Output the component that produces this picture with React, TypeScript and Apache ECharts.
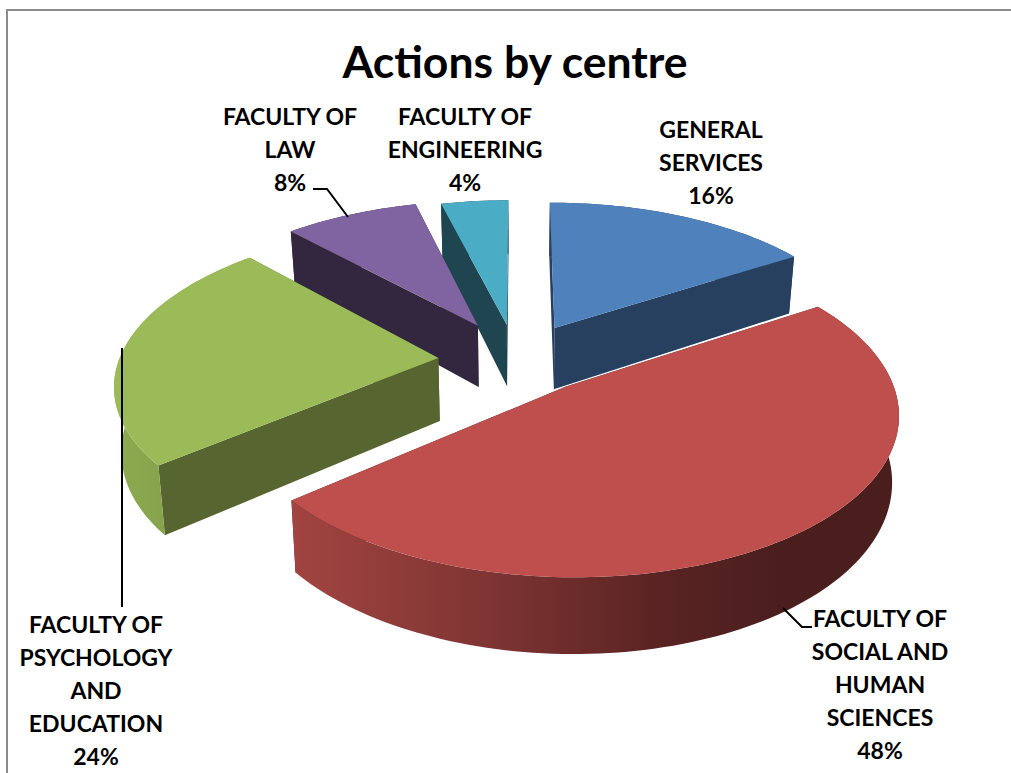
import React, { useEffect, useRef } from "react";
import * as echarts from "echarts";

// Share of actions per centre, in percent, clockwise from twelve o'clock.
const centreNames = [
  "GENERAL\nSERVICES",
  "FACULTY OF\nSOCIAL AND\nHUMAN\nSCIENCES",
  "FACULTY OF\nPSYCHOLOGY\nAND\nEDUCATION",
  "FACULTY OF\nLAW",
  "FACULTY OF\nENGINEERING",
];
const centreShares = [16, 48, 24, 8, 4];

// Painter's order, from the rearmost slice to the frontmost one.
const drawOrder = [4, 3, 0, 2, 1];

// How far each slice is pulled out of the pie, in disc units [right, back].
const sliceOffsets = [
  [0.118, 0.189],
  [0.147, -0.195],
  [-0.25, -0.013],
  [-0.13, 0.205],
  [-0.036, 0.21],
];
const topColors = ["#4f81bd", "#be4f4c", "#9bbb59", "#8064a2", "#4bacc6"];
const sideColors = ["#27405f", "#4b1e1e", "#576630", "#33273f", "#1f4650"];
const rimColors: any[] = [
  "#27405f",
  {
    type: "linear", x: 0, y: 0, x2: 1, y2: 0,
    colorStops: [
      { offset: 0, color: "#a24441" },
      { offset: 0.3, color: "#813634" },
      { offset: 0.6, color: "#5a2423" },
      { offset: 0.8, color: "#4b1e1e" },
      { offset: 1, color: "#4b1e1e" },
    ],
  },
  {
    type: "linear", x: 0, y: 0, x2: 1, y2: 0,
    colorStops: [
      { offset: 0, color: "#8cab50" },
      { offset: 1, color: "#7c9645" },
    ],
  },
  "#33273f",
  "#1f4650",
];

// Where each label block is centred.
const labelCentres = [
  [711, 162],
  [880, 684],
  [96, 690],
  [290, 149],
  [465, 149],
];
const leaderLines = [
  [[313, 189], [327, 189], [348, 217]],
  [[783, 608], [802, 627], [812, 627]],
  [[122, 348], [122, 607]],
];

// Perspective camera over the pie's disc.
const VIEW = { cx: 518, cy: 356, rx: 318, ry: 152, persp: 0.15, depth: 63, taper: 0.018 };

function project(a: number, b: number, lower: boolean): number[] {
  const s = 1 / (1 + VIEW.persp * b);
  const x = VIEW.rx * a * s;
  const y = -VIEW.ry * b * s;
  return lower
    ? [VIEW.cx + x * (1 - VIEW.taper), VIEW.cy + y + VIEW.depth * s]
    : [VIEW.cx + x, VIEW.cy + y];
}

function arcPoints(da: number, db: number, from: number, to: number, lower: boolean): number[][] {
  const steps = Math.max(4, Math.ceil((to - from) * 40));
  const pts: number[][] = [];
  for (let i = 0; i <= steps; i++) {
    const t = from + ((to - from) * i) / steps;
    pts.push(project(da + Math.sin(t), db + Math.cos(t), lower));
  }
  return pts;
}

function renderSlice(_params: any, api: any) {
  const from = api.value(0);
  const to = api.value(1);
  const idx = api.value(2);
  const [da, db] = sliceOffsets[idx];
  const apexTop = project(da, db, false);
  const apexLow = project(da, db, true);
  const upper = arcPoints(da, db, from, to, false);
  const lower = arcPoints(da, db, from, to, true);
  const n = upper.length - 1;
  const poly = (points: number[][], fill: any) => ({ type: "polygon", shape: { points }, style: { fill } });
  return {
    type: "group",
    children: [
      // Cut faces first, so the rim hides whichever of them faces away.
      poly([apexTop, upper[n], lower[n], apexLow], sideColors[idx]),
      poly([apexTop, upper[0], lower[0], apexLow], sideColors[idx]),
      poly([...upper, ...lower.slice().reverse()], rimColors[idx]),
      poly([apexTop, ...upper], topColors[idx]),
    ],
  };
}

export default function App() {
  const ref = useRef<HTMLDivElement>(null);

  useEffect(() => {
    document.body.style.margin = "0";
    const chart = echarts.init(ref.current!, null, { renderer: "svg" });

    const total = centreShares.reduce((acc, v) => acc + v, 0);
    let running = 0;
    const spans = centreShares.map((v) => {
      const start = (running / total) * Math.PI * 2;
      running += v;
      return [start, (running / total) * Math.PI * 2];
    });

    const labelFont = { fontFamily: "Lato", fontWeight: "bold" as const, fontSize: 23, lineHeight: 33 };

    chart.setOption({
      animation: false,
      backgroundColor: "#ffffff",
      title: {
        text: "Actions by centre",
        left: 510,
        top: 33,
        textAlign: "center",
        textStyle: { fontFamily: "Lato", fontWeight: "bold", fontSize: 44.5, color: "#000000" },
      },
      series: [
        {
          type: "custom",
          coordinateSystem: "none",
          silent: true,
          renderItem: renderSlice,
          data: drawOrder.map((i) => [spans[i][0], spans[i][1], i]),
        },
      ],
      graphic: [
        { type: "rect", shape: { x: 6, y: 9, width: 1005, height: 2 }, style: { fill: "#8c8c8c" } },
        { type: "rect", shape: { x: 6, y: 9, width: 2, height: 764 }, style: { fill: "#8c8c8c" } },
        ...leaderLines.map((points) => ({
          type: "polyline",
          z: 10,
          shape: { points },
          style: { stroke: "#000000", lineWidth: 2, fill: "none" },
        })),
        ...centreNames.map((name, i) => ({
          type: "text",
          z: 10,
          x: labelCentres[i][0],
          y: labelCentres[i][1],
          style: {
            text: `${name}\n${centreShares[i]}%`,
            align: "center",
            verticalAlign: "middle",
            fill: "#000000",
            ...labelFont,
          },
        })),
      ],
    });

    return () => chart.dispose();
  }, []);

  return <div ref={ref} style={{ width: 1011, height: 773, display: "block" }} />;
}
